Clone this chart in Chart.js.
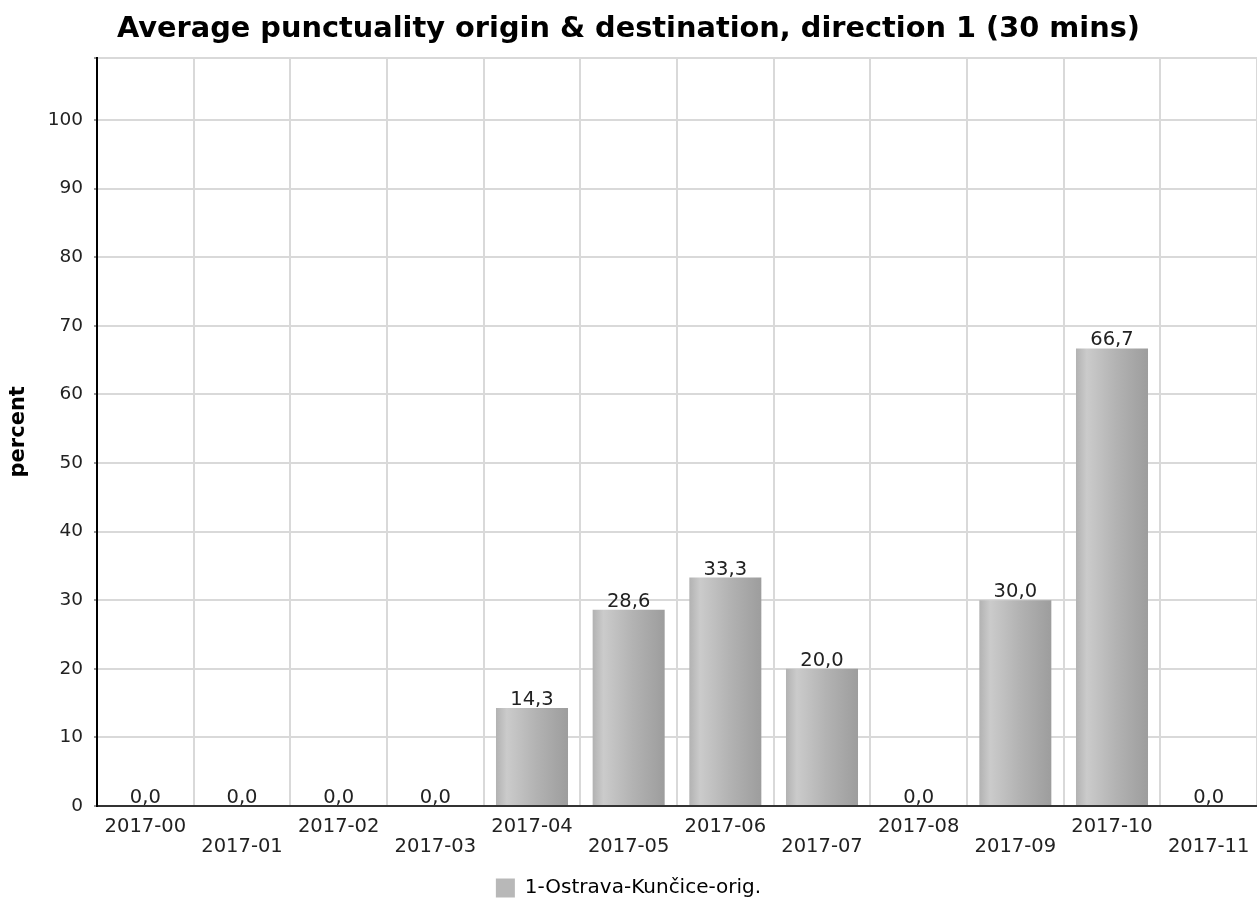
<!DOCTYPE html>
<html>
<head>
<meta charset="utf-8">
<script src="https://cdn.jsdelivr.net/npm/chart.js@4/dist/chart.umd.min.js"></script>
<style>
  html, body { margin: 0; padding: 0; background: #fff; }
  #wrap { width: 1257px; height: 900px; }
</style>
</head>
<body>
<div id="wrap"><canvas id="punct"></canvas></div>
<script>
const months = ['2017-00','2017-01','2017-02','2017-03','2017-04','2017-05','2017-06','2017-07','2017-08','2017-09','2017-10','2017-11'];
const punctuality = [0.0, 0.0, 0.0, 0.0, 14.3, 28.6, 33.3, 20.0, 0.0, 30.0, 66.7, 0.0];
const yTicks = [0, 10, 20, 30, 40, 50, 60, 70, 80, 90, 100];
const seriesName = '1-Ostrava-Kunčice-orig.';
const titleText = 'Average punctuality origin & destination, direction 1 (30 mins)';

// staggered labels: odd months go on the second row
const xLabels = months.map((m, i) => i % 2 ? ['', m] : [m, '']);

const FONT = 'DejaVu Sans';
const BAR_PCT = 0.745;
const Y_MAX = 109.1;

function barGradient(c) {
    const chart = c.chart;
    const xs = chart.scales.x;
    if (!xs || c.dataIndex === undefined) return '#b4b4b4';
    const cx = xs.getPixelForValue(c.dataIndex);
    const half = (xs.width / months.length) * BAR_PCT / 2;
    const g = chart.ctx.createLinearGradient(cx - half, 0, cx + half, 0);
    g.addColorStop(0, '#b2b2b2');
    g.addColorStop(0.15, '#cbcbcb');
    g.addColorStop(0.55, '#b3b3b3');
    g.addColorStop(1, '#9d9d9d');
    return g;
}

const valueLabels = {
    id: 'valueLabels',
    afterDatasetsDraw(chart) {
        const ctx = chart.ctx;
        const meta = chart.getDatasetMeta(0);
        ctx.save();
        ctx.font = '19.5px "' + FONT + '"';
        ctx.fillStyle = '#222';
        ctx.textAlign = 'center';
        ctx.textBaseline = 'alphabetic';
        meta.data.forEach((bar, i) => {
            const txt = punctuality[i].toFixed(1).replace('.', ',');
            ctx.fillText(txt, bar.x, bar.y - 3);
        });
        ctx.restore();
    }
};

new Chart(document.getElementById('punct'), {
    type: 'bar',
    data: {
        labels: xLabels,
        datasets: [{
            label: seriesName,
            data: punctuality,
            backgroundColor: barGradient,
            borderWidth: 0,
            barPercentage: BAR_PCT,
            categoryPercentage: 1
        }]
    },
    options: {
        responsive: true,
        maintainAspectRatio: false,
        animation: false,
        layout: { padding: { top: 0, left: 0, right: 0, bottom: -8 } },
        plugins: {
            title: {
                display: true,
                text: titleText,
                color: '#000',
                font: { family: FONT, size: 28.8, weight: 'bold', lineHeight: 1.2 },
                padding: { top: 12, bottom: 11 }
            },
            legend: {
                position: 'bottom',
                labels: {
                    color: '#222',
                    font: { family: FONT, size: 20 },
                    boxWidth: 19,
                    boxHeight: 19,
                    padding: 1,
                    generateLabels: () => [{
                        text: seriesName,
                        fillStyle: '#b8b8b8',
                        strokeStyle: '#b8b8b8',
                        lineWidth: 0,
                        datasetIndex: 0
                    }]
                }
            },
            tooltip: { enabled: false }
        },
        scales: {
            x: {
                offset: true,
                grid: { offset: true, color: '#d9d9d9', lineWidth: 2, drawTicks: false },
                border: { display: true, color: '#333', width: 2 },
                ticks: {
                    autoSkip: false,
                    maxRotation: 0,
                    minRotation: 0,
                    padding: 11,
                    color: '#222',
                    font: { family: FONT, size: 19.5, lineHeight: 1.03 }
                },
                afterFit(scale) {
                    scale.height = 71;
                    scale.paddingLeft = 0;
                    scale.paddingRight = 0;
                }
            },
            y: {
                min: 0,
                max: Y_MAX,
                afterBuildTicks(scale) {
                    scale.ticks = yTicks.map(v => ({ value: v })).concat([{ value: Y_MAX }]);
                },
                grid: { color: '#d9d9d9', lineWidth: 2, drawTicks: true, tickLength: 3, tickColor: '#999' },
                border: { display: true, color: '#000', width: 2 },
                ticks: {
                    padding: 11,
                    color: '#222',
                    font: { family: FONT, size: 18.5 },
                    callback: v => yTicks.includes(v) ? String(v) : ''
                },
                title: {
                    display: true,
                    text: 'percent',
                    color: '#000',
                    font: { family: FONT, size: 21, weight: 'bold' },
                    padding: { top: 6, bottom: 0 }
                },
                afterFit(scale) { scale.width = 97; }
            }
        }
    },
    plugins: [valueLabels]
});
</script>
</body>
</html>
